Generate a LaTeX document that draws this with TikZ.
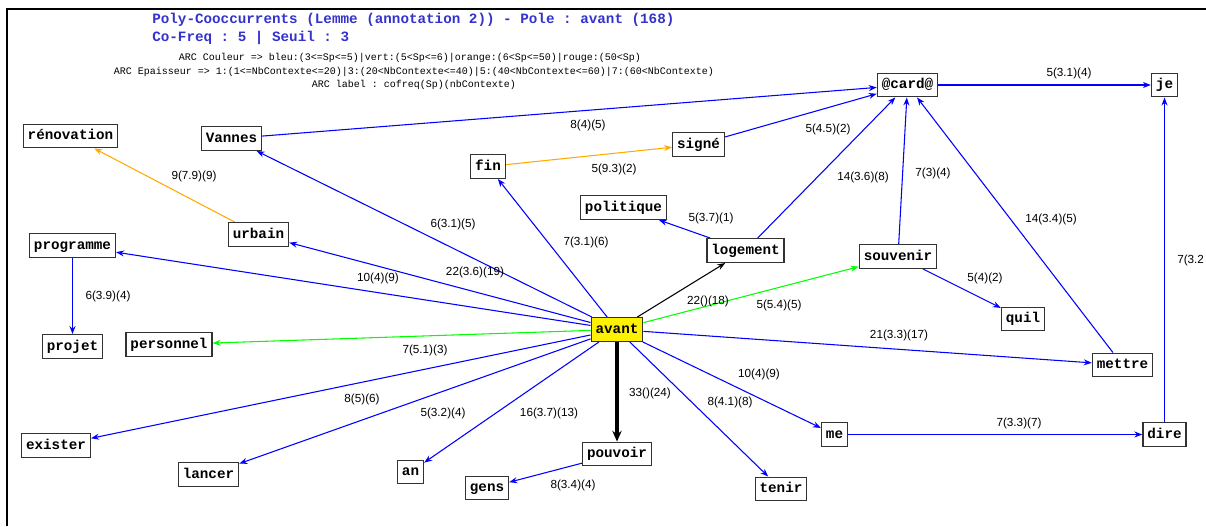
\documentclass[tikz,border=0pt]{standalone}
\usepackage{fontspec}
\setmainfont{Liberation Sans}
\setmonofont{Liberation Mono}
\usetikzlibrary{arrows.meta}
\definecolor{eblue}{RGB}{0,0,255}
\definecolor{egreen}{RGB}{0,255,0}
\definecolor{eorange}{RGB}{255,170,0}
\definecolor{ttl}{RGB}{51,51,204}
\definecolor{bord}{RGB}{50,50,50}
\pgfdeclarelayer{bg}
\pgfsetlayers{bg,main}
\begin{document}
\begin{tikzpicture}[x=0.75pt,y=-0.75pt,
  wbox/.style={draw=bord, line width=1pt, fill=white,
    font=\ttfamily\bfseries\fontsize{10.7}{12}\selectfont,
    inner xsep=3.3pt, inner ysep=4pt, text height=7.5pt, text depth=2.2pt},
  lbl/.style={font=\fontsize{8.8}{10}\selectfont, inner sep=0pt},
  ttlstyle/.style={font=\ttfamily\bfseries\fontsize{10.7}{12}\selectfont, text=ttl, inner sep=0pt, anchor=west},
  legstyle/.style={font=\ttfamily\fontsize{7.5}{9}\selectfont, inner sep=0pt},
  arr/.style={-{Stealth[length=6pt,width=4.5pt]}, line width=0.8pt},
  barr/.style={arr, draw=eblue},
  garr/.style={arr, draw=egreen},
  oarr/.style={arr, draw=eorange},
  karr/.style={arr, draw=black},
  thickarr/.style={-{Stealth[length=8pt,width=7pt]}, line width=3pt, draw=black}
]
\useasboundingbox (0,0) rectangle (1206,526);
% frame
\draw[line width=1.5pt, line join=miter] (1206,9) -- (7,9) -- (7,526);

% titles
\node[ttlstyle] (t1) at (152,20) {Poly-Cooccurrents (Lemme (annotation 2)) - Pole : avant (168)};
\node[ttlstyle] (t2) at (152,38) {Co-Freq : 5 | Seuil : 3};
\node[legstyle] (g1) at (410,58) {ARC Couleur => bleu:(3<=Sp<=5)|vert:(5<Sp<=6)|orange:(6<Sp<=50)|rouge:(50<Sp)};
\node[legstyle] (g2) at (414,72) {ARC Epaisseur => 1:(1<=NbContexte<=20)|3:(20<NbContexte<=40)|5:(40<NbContexte<=60)|7:(60<NbContexte)};
\node[legstyle] (g3) at (414,85) {ARC label : cofreq(Sp)(nbContexte)};

% nodes
\node[wbox] (renov) at (70.5,136) {rénovation};
\node[wbox] (vannes) at (231.5,138.5) {Vannes};
\node[wbox] (urbain) at (258.5,234.5) {urbain};
\node[wbox] (programme) at (72.5,245.5) {programme};
\node[wbox] (projet) at (72.5,346.5) {projet};
\node[wbox] (personnel) at (169,344.5) {personnel};
\node[wbox] (exister) at (56,445.5) {exister};
\node[wbox] (lancer) at (208.5,474.5) {lancer};
\node[wbox] (an) at (410.5,472) {an};
\node[wbox, fill=yellow] (avant) at (617,329.5) {avant};
\node[wbox] (pouvoir) at (617,454) {pouvoir};
\node[wbox] (gens) at (487,488) {gens};
\node[wbox] (tenir) at (781,489) {tenir};
\node[wbox] (fin) at (488,166.5) {fin};
\node[wbox] (signe) at (698.5,144.5) {signé};
\node[wbox] (politique) at (623.5,207.5) {politique};
\node[wbox] (logement) at (745.5,250.5) {logement};
\node[wbox] (card) at (907.5,85) {@card@};
\node[wbox] (je) at (1164.5,85) {je};
\node[wbox] (souvenir) at (898,256.5) {souvenir};
\node[wbox] (quil) at (1023,319) {quil};
\node[wbox] (mettre) at (1122.5,365) {mettre};
\node[wbox] (me) at (834.5,434.5) {me};
\node[wbox] (dire) at (1164.5,434.5) {dire};

% edges
\begin{pgfonlayer}{bg}
\draw[barr] (avant) -- (vannes);
\draw[barr] (avant) -- (urbain);
\draw[barr] (avant) -- (programme);
\draw[garr] (avant) -- (personnel);
\draw[barr] (avant) -- (exister);
\draw[barr] (avant) -- (lancer);
\draw[barr] (avant) -- (an);
\draw[thickarr] (avant) -- (pouvoir);
\draw[barr] (avant) -- (tenir);
\draw[barr] (avant) -- (me);
\draw[barr] (avant) -- (mettre);
\draw[garr] (avant) -- (souvenir);
\draw[karr] (avant) -- (logement);
\draw[barr] (avant) -- (fin);
\draw[oarr] (urbain) -- (renov);
\draw[barr] (programme) -- (projet);
\draw[oarr] (fin) -- (signe);
\draw[barr] (signe) -- (card);
\draw[barr] (vannes) -- (card);
\draw[barr] (logement) -- (politique);
\draw[barr] (logement) -- (card);
\draw[barr] (souvenir) -- (card);
\draw[barr] (souvenir) -- (quil);
\draw[barr] (mettre) -- (card);
\draw[barr] (card) -- (je);
\draw[barr] (dire) -- (je);
\draw[barr] (me) -- (dire);
\draw[barr] (pouvoir) -- (gens);
\end{pgfonlayer}

% edge labels
\node[lbl] (l1) at (194,176) {9(7.9)(9)};
\node[lbl] (l2) at (588,125) {8(4)(5)};
\node[lbl] (l3) at (614,169) {5(9.3)(2)};
\node[lbl] (l4) at (711,218) {5(3.7)(1)};
\node[lbl] (l5) at (586,242) {7(3.1)(6)};
\node[lbl] (l6) at (453,224) {6(3.1)(5)};
\node[lbl] (l7) at (475,272) {22(3.6)(19)};
\node[lbl] (l8) at (378,278) {10(4)(9)};
\node[lbl] (l9) at (828,129) {5(4.5)(2)};
\node[lbl] (l10) at (863,177) {14(3.6)(8)};
\node[lbl] (l11) at (933,173) {7(3)(4)};
\node[lbl] (l12) at (1051,219) {14(3.4)(5)};
\node[lbl] (l13) at (1069,73) {5(3.1)(4)};
\node[lbl, anchor=west] (l14) at (1177,260) {7(3.2};
\node[lbl] (l15) at (985,278) {5(4)(2)};
\node[lbl] (l16) at (708,301) {22()(18)};
\node[lbl] (l17) at (779,305) {5(5.4)(5)};
\node[lbl] (l18) at (425,350) {7(5.1)(3)};
\node[lbl] (l19) at (899,335) {21(3.3)(17)};
\node[lbl] (l20) at (759,374) {10(4)(9)};
\node[lbl] (l21) at (650,393) {33()(24)};
\node[lbl] (l22) at (730,402) {8(4.1)(8)};
\node[lbl] (l23) at (549,413) {16(3.7)(13)};
\node[lbl] (l24) at (443,413) {5(3.2)(4)};
\node[lbl] (l25) at (362,399) {8(5)(6)};
\node[lbl] (l26) at (108,296) {6(3.9)(4)};
\node[lbl] (l27) at (573,485) {8(3.4)(4)};
\node[lbl] (l28) at (1019,423) {7(3.3)(7)};
\end{tikzpicture}
\end{document}
